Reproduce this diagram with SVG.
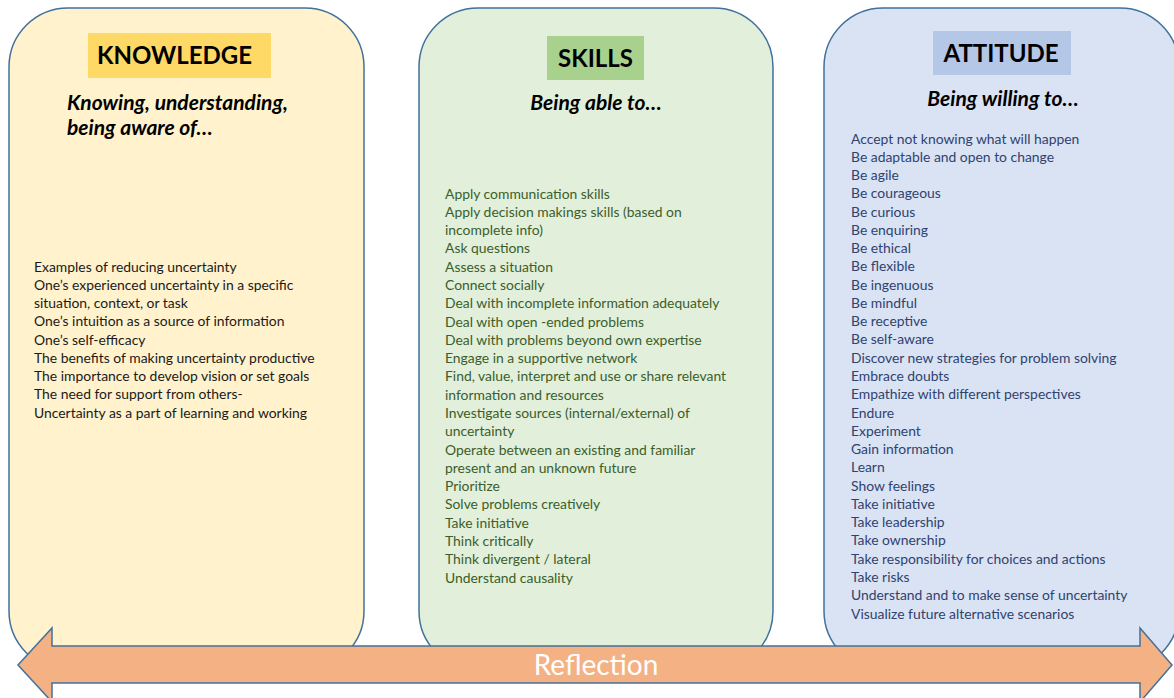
<svg xmlns="http://www.w3.org/2000/svg" width="1174" height="698" viewBox="0 0 1174 698">
<style>
.box{stroke:#41719C;stroke-width:1.5}
.hd{font-family:Lato,"Liberation Sans",sans-serif;font-weight:bold;font-size:24px;fill:#000}
.sub{font-family:Lato,"Liberation Sans",sans-serif;font-weight:bold;font-style:italic;font-size:21px;fill:#000}
.body{font-family:Lato,"Liberation Sans",sans-serif;font-size:13.9px}
.k{fill:#1a1a1a}
.s{fill:#3B5E2B}
.a{fill:#2F4270}
</style>
<rect width="1174" height="698" fill="#fff"/>
<g id="knowledge">
<rect class="box" x="9" y="8" width="355" height="662" rx="59" fill="#FFF2CC"/>
<rect x="88" y="33" width="183" height="45" fill="#FFD966"/>
<text class="hd" x="97" y="64">KNOWLEDGE</text>
<text class="sub" x="67" y="110">Knowing, understanding,</text>
<text class="sub" x="67" y="135">being aware of…</text>
<text class="body k" x="34" y="271.5">
<tspan x="34">Examples of reducing uncertainty</tspan>
<tspan x="34" dy="18.25">One’s experienced uncertainty in a specific</tspan>
<tspan x="34" dy="18.25">situation, context, or task</tspan>
<tspan x="34" dy="18.25">One’s intuition as a source of information</tspan>
<tspan x="34" dy="18.25">One’s self-efficacy</tspan>
<tspan x="34" dy="18.25">The benefits of making uncertainty productive</tspan>
<tspan x="34" dy="18.25">The importance to develop vision or set goals</tspan>
<tspan x="34" dy="18.25">The need for support from others-</tspan>
<tspan x="34" dy="18.25">Uncertainty as a part of learning and working</tspan>
</text>
</g>
<g id="skills">
<rect class="box" x="419" y="8" width="354" height="662" rx="59" fill="#E2EFDA"/>
<rect x="547" y="36" width="97" height="44" fill="#A9D18E"/>
<text class="hd" x="595.5" y="67" text-anchor="middle">SKILLS</text>
<text class="sub" x="596" y="110" text-anchor="middle">Being able to…</text>
<text class="body s" x="445" y="198.5">
<tspan x="445">Apply communication skills</tspan>
<tspan x="445" dy="18.29">Apply decision makings skills (based on</tspan>
<tspan x="445" dy="18.29">incomplete info)</tspan>
<tspan x="445" dy="18.29">Ask questions</tspan>
<tspan x="445" dy="18.29">Assess a situation</tspan>
<tspan x="445" dy="18.29">Connect socially</tspan>
<tspan x="445" dy="18.29">Deal with incomplete information adequately</tspan>
<tspan x="445" dy="18.29">Deal with open -ended problems</tspan>
<tspan x="445" dy="18.29">Deal with problems beyond own expertise</tspan>
<tspan x="445" dy="18.29">Engage in a supportive network</tspan>
<tspan x="445" dy="18.29">Find, value, interpret and use or share relevant</tspan>
<tspan x="445" dy="18.29">information and resources</tspan>
<tspan x="445" dy="18.29">Investigate sources (internal/external) of</tspan>
<tspan x="445" dy="18.29">uncertainty</tspan>
<tspan x="445" dy="18.29">Operate between an existing and familiar</tspan>
<tspan x="445" dy="18.29">present and an unknown future</tspan>
<tspan x="445" dy="18.29">Prioritize</tspan>
<tspan x="445" dy="18.29">Solve problems creatively</tspan>
<tspan x="445" dy="18.29">Take initiative</tspan>
<tspan x="445" dy="18.29">Think critically</tspan>
<tspan x="445" dy="18.29">Think divergent / lateral</tspan>
<tspan x="445" dy="18.29">Understand causality</tspan>
</text>
</g>
<g id="attitude">
<rect class="box" x="824" y="8" width="355" height="662" rx="59" fill="#DAE3F3"/>
<rect x="933" y="31" width="138" height="44" fill="#B4C7E7"/>
<text class="hd" x="1001" y="62" text-anchor="middle">ATTITUDE</text>
<text class="sub" x="1003" y="106" text-anchor="middle">Being willing to…</text>
<text class="body a" x="851" y="143.5">
<tspan x="851">Accept not knowing what will happen</tspan>
<tspan x="851" dy="18.27">Be adaptable and open to change</tspan>
<tspan x="851" dy="18.27">Be agile</tspan>
<tspan x="851" dy="18.27">Be courageous</tspan>
<tspan x="851" dy="18.27">Be curious</tspan>
<tspan x="851" dy="18.27">Be enquiring</tspan>
<tspan x="851" dy="18.27">Be ethical</tspan>
<tspan x="851" dy="18.27">Be flexible</tspan>
<tspan x="851" dy="18.27">Be ingenuous</tspan>
<tspan x="851" dy="18.27">Be mindful</tspan>
<tspan x="851" dy="18.27">Be receptive</tspan>
<tspan x="851" dy="18.27">Be self-aware</tspan>
<tspan x="851" dy="18.27">Discover new strategies for problem solving</tspan>
<tspan x="851" dy="18.27">Embrace doubts</tspan>
<tspan x="851" dy="18.27">Empathize with different perspectives</tspan>
<tspan x="851" dy="18.27">Endure</tspan>
<tspan x="851" dy="18.27">Experiment</tspan>
<tspan x="851" dy="18.27">Gain information</tspan>
<tspan x="851" dy="18.27">Learn</tspan>
<tspan x="851" dy="18.27">Show feelings</tspan>
<tspan x="851" dy="18.27">Take initiative</tspan>
<tspan x="851" dy="18.27">Take leadership</tspan>
<tspan x="851" dy="18.27">Take ownership</tspan>
<tspan x="851" dy="18.27">Take responsibility for choices and actions</tspan>
<tspan x="851" dy="18.27">Take risks</tspan>
<tspan x="851" dy="18.27">Understand and to make sense of uncertainty</tspan>
<tspan x="851" dy="18.27">Visualize future alternative scenarios</tspan>
</text>
</g>
<g id="connectors">
<g id="reflection">
<path d="M18,665 L52,628 L52,646 L1140,646 L1140,628 L1172,665 L1140,702 L1140,683 L52,683 L52,702 Z" fill="#F4B183" stroke="#41719C" stroke-width="1.5" stroke-linejoin="miter"/>
<text x="596" y="675" text-anchor="middle" font-family="Lato,'Liberation Sans',sans-serif" font-size="28" fill="#fff">Reflection</text>
</g>
</g>
</svg>
